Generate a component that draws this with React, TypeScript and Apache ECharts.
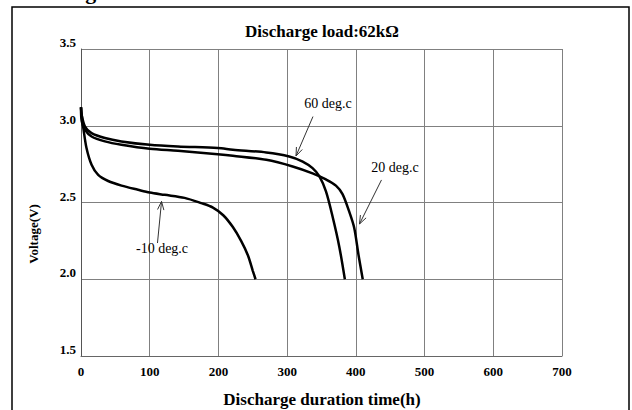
import React, { useEffect, useRef } from "react";
import * as echarts from "echarts";

const xTicks = [0, 100, 200, 300, 400, 500, 600, 700];
const yTicks = [1.5, 2.0, 2.5, 3.0, 3.5];

const t60Hours = [0, 1, 5.8, 15.4, 34.8, 58.8, 100, 141, 199, 221, 269.6, 303, 322.6, 337, 347, 356.5, 366, 375.8, 384];
const t60Volts = [3.12, 3.07, 2.995, 2.952, 2.92, 2.898, 2.876, 2.865, 2.855, 2.844, 2.826, 2.8, 2.767, 2.724, 2.67, 2.572, 2.41, 2.214, 2.0];

const t20Hours = [0, 1, 5.8, 15.4, 34.8, 58.8, 100, 141, 199, 221, 269.6, 308, 337, 356.5, 371, 380.6, 390, 397.5, 403.8, 410];
const t20Volts = [3.12, 3.03, 2.974, 2.93, 2.898, 2.876, 2.85, 2.837, 2.815, 2.805, 2.778, 2.735, 2.69, 2.65, 2.61, 2.555, 2.445, 2.337, 2.16, 2.0];

const tm10Hours = [0, 1.5, 3.4, 8, 15.4, 25, 39.5, 59, 83, 100, 121.7, 150.7, 175, 192, 207, 221, 233, 243, 250, 254];
const tm10Volts = [3.12, 3.05, 2.985, 2.855, 2.746, 2.68, 2.64, 2.61, 2.583, 2.565, 2.55, 2.53, 2.496, 2.467, 2.417, 2.34, 2.25, 2.155, 2.055, 2.0];

// annotations: label, text position, arrow start, arrow end (data coords)
const annotations = [
  { label: "60 deg.c", text: [359.5, 3.142], from: [337.6, 3.06], to: [312.9, 2.803] },
  { label: "20 deg.c", text: [457, 2.731], from: [437.3, 2.647], to: [405.3, 2.36] },
  { label: "-10 deg.c", text: [117.9, 2.2], from: [111.3, 2.236], to: [117.2, 2.507] },
];

const SERIF = "'Liberation Serif', 'Times New Roman', serif";

function zip(a: number[], b: number[]) {
  return a.map((v, i) => [v, b[i]]);
}

export default function App() {
  const ref = useRef<HTMLDivElement>(null);
  useEffect(() => {
    if (!ref.current) return;
    const chart = echarts.init(ref.current, null, { renderer: "svg" });
    const lineSeries = (name: string, h: number[], v: number[]) => ({
      name,
      type: "line",
      data: zip(h, v),
      showSymbol: false,
      symbol: "none",
      smooth: 0.3,
      lineStyle: { color: "#000", width: 2.5 },
      z: 5,
    });
    chart.setOption({
      animation: false,
      backgroundColor: "#fff",
      grid: { left: 81, top: 49, width: 481, height: 307 },
      xAxis: {
        type: "value",
        min: xTicks[0],
        max: xTicks[xTicks.length - 1],
        interval: 100,
        axisLine: { show: true, lineStyle: { color: "#666", width: 1 } },
        axisTick: { show: false },
        splitLine: { show: true, lineStyle: { color: "#808080", width: 1 } },
        axisLabel: {
          color: "#000",
          fontFamily: SERIF,
          fontWeight: "bold",
          fontSize: 13,
          margin: 9,
        },
      },
      yAxis: {
        type: "value",
        min: yTicks[0],
        max: yTicks[yTicks.length - 1],
        interval: 0.5,
        axisLine: { show: true, lineStyle: { color: "#555", width: 1 } },
        axisTick: { show: false },
        splitLine: { show: true, lineStyle: { color: "#808080", width: 1 } },
        axisLabel: {
          color: "#000",
          fontFamily: SERIF,
          fontWeight: "bold",
          fontSize: 13,
          margin: 5,
          verticalAlign: "bottom",
          formatter: (v: number) => v.toFixed(1),
        },
      },
      series: [
        lineSeries("60 deg.c", t60Hours, t60Volts),
        lineSeries("20 deg.c", t20Hours, t20Volts),
        lineSeries("-10 deg.c", tm10Hours, tm10Volts),
      ],
    });

    const g: any[] = [
      {
        type: "rect",
        shape: { x: 12, y: 7, width: 617, height: 430 },
        style: { fill: "none", stroke: "#000", lineWidth: 1.5 },
        silent: true,
      },
      {
        type: "text",
        x: 12,
        y: 2,
        style: {
          text: "Discharge Characteristics",
          font: `bold 22px ${SERIF}`,
          fill: "#000",
          textAlign: "left",
          textVerticalAlign: "bottom",
        },
      },
      {
        type: "text",
        x: 322,
        y: 31,
        style: {
          text: "Discharge load:62kΩ",
          font: `bold 17px ${SERIF}`,
          fill: "#000",
          textAlign: "center",
          textVerticalAlign: "middle",
        },
      },
      {
        type: "text",
        x: 33,
        y: 234,
        rotation: Math.PI / 2,
        style: {
          text: "Voltage(V)",
          font: `bold 13px ${SERIF}`,
          fill: "#000",
          textAlign: "center",
          textVerticalAlign: "middle",
        },
      },
      {
        type: "text",
        x: 322,
        y: 399,
        style: {
          text: "Discharge duration time(h)",
          font: `bold 17px ${SERIF}`,
          fill: "#000",
          textAlign: "center",
          textVerticalAlign: "middle",
        },
      },
    ];

    annotations.forEach((a) => {
      const tp = chart.convertToPixel({ gridIndex: 0 }, a.text) as number[];
      const p1 = chart.convertToPixel({ gridIndex: 0 }, a.from) as number[];
      const p2 = chart.convertToPixel({ gridIndex: 0 }, a.to) as number[];
      g.push({
        type: "text",
        x: tp[0],
        y: tp[1],
        z: 10,
        style: {
          text: a.label,
          font: `14px ${SERIF}`,
          fill: "#000",
          textAlign: "center",
          textVerticalAlign: "middle",
        },
      });
      g.push({
        type: "line",
        z: 10,
        shape: { x1: p1[0], y1: p1[1], x2: p2[0], y2: p2[1] },
        style: { stroke: "#333", lineWidth: 1 },
      });
      const ang = Math.atan2(p2[1] - p1[1], p2[0] - p1[0]);
      const L = 9;
      const s = 0.36;
      g.push({
        type: "polyline",
        z: 10,
        shape: {
          points: [
            [p2[0] - L * Math.cos(ang - s), p2[1] - L * Math.sin(ang - s)],
            [p2[0], p2[1]],
            [p2[0] - L * Math.cos(ang + s), p2[1] - L * Math.sin(ang + s)],
          ],
        },
        style: { stroke: "#333", lineWidth: 1, fill: "none" },
      });
    });

    chart.setOption({ graphic: g });
    return () => chart.dispose();
  }, []);
  return (
    <div
      ref={ref}
      style={{ position: "absolute", left: 0, top: 0, width: 632, height: 410 }}
    />
  );
}
